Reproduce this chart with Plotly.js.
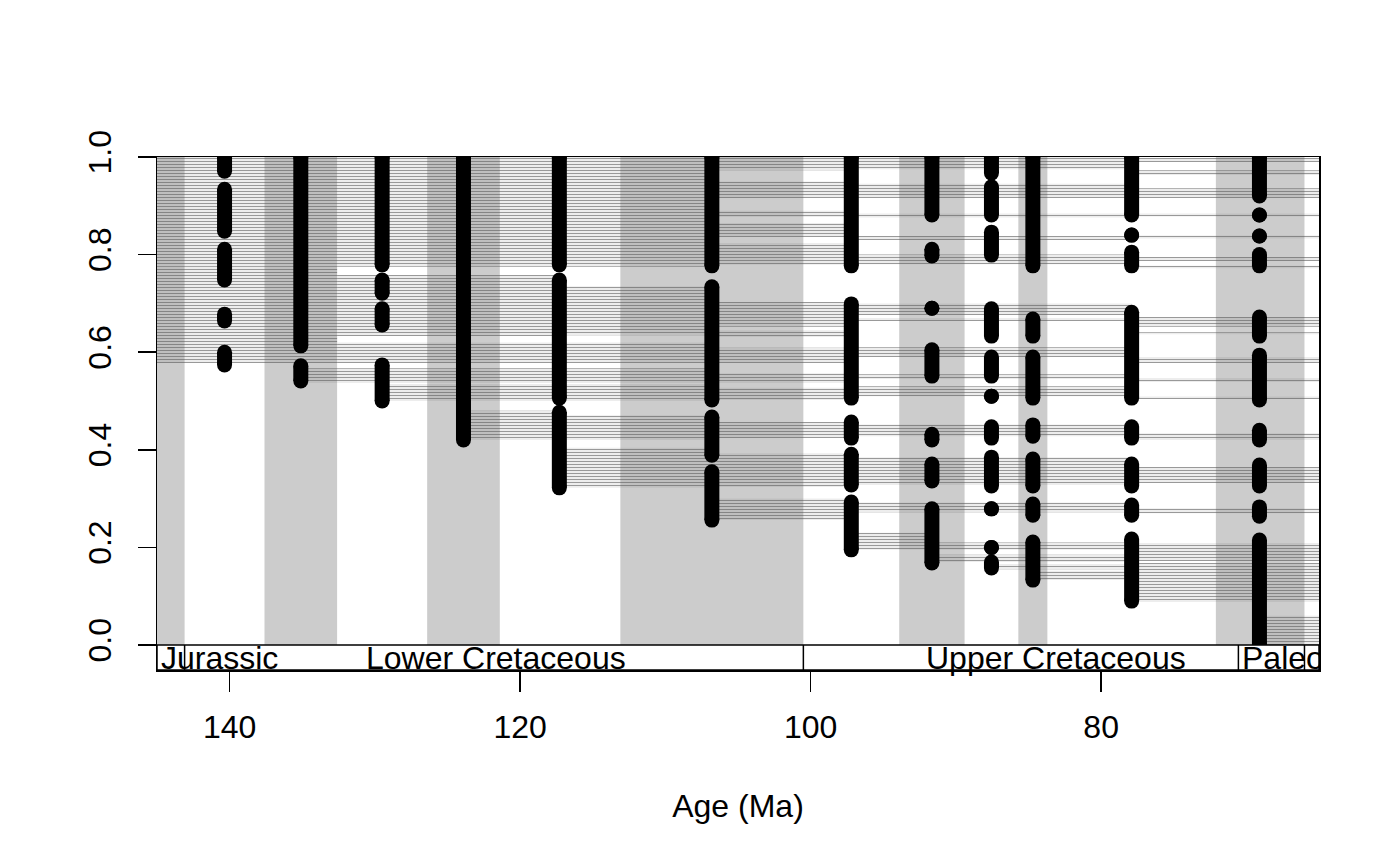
<!DOCTYPE html>
<html>
<head>
<meta charset="utf-8">
<script src="https://cdn.plot.ly/plotly-3.0.1.min.js"></script>
<style>
  html, body { margin: 0; padding: 0; background: white; }
  #chart1 { width: 1400px; height: 866px; }
</style>
</head>
<body>
<div id="chart1"></div>
<script>
// stage bins (Ma), every other one shaded
const shadeTop  = [146.0, 137.6, 126.4, 113.1, 93.9, 85.7, 72.1]
const shadeBase = [143.1, 132.6, 121.4, 100.5, 89.4, 83.7, 66.0]

// bin midpoints where the occurrences sit
const binMid = [140.35, 135.1, 129.5, 123.9, 117.3, 106.8, 97.2, 91.65, 87.55, 84.7, 77.9, 69.1]

// stacks of occurrence dots in each bin: [top, bottom] (taxon position 0..1)
const occRuns = [
    [[1.0, 0.971], [0.934, 0.848], [0.811, 0.748], [0.678, 0.664], [0.600, 0.574]],
    [[1.0, 0.613], [0.572, 0.541]],
    [[1.0, 0.779], [0.748, 0.721], [0.689, 0.656], [0.574, 0.500]],
    [[1.0, 0.420]],
    [[1.0, 0.779], [0.748, 0.506], [0.477, 0.322]],
    [[1.0, 0.777], [0.734, 0.502], [0.467, 0.389], [0.355, 0.256]],
    [[1.0, 0.777], [0.699, 0.506], [0.457, 0.424], [0.391, 0.328], [0.293, 0.195]],
    [[1.0, 0.881], [0.811, 0.797], [0.690, 0.690], [0.605, 0.551], [0.432, 0.420], [0.371, 0.336], [0.279, 0.168]],
    [[1.0, 0.967], [0.939, 0.881], [0.846, 0.799], [0.689, 0.633], [0.590, 0.551], [0.510, 0.510], [0.447, 0.424], [0.385, 0.326], [0.279, 0.279], [0.200, 0.200], [0.170, 0.158]],
    [[1.0, 0.777], [0.668, 0.633], [0.590, 0.506], [0.451, 0.428], [0.381, 0.326], [0.289, 0.266], [0.211, 0.133]],
    [[1.0, 0.881], [0.840, 0.840], [0.805, 0.777], [0.682, 0.506], [0.447, 0.424], [0.371, 0.326], [0.287, 0.266], [0.217, 0.090]],
    [[1.0, 0.920], [0.881, 0.881], [0.838, 0.838], [0.800, 0.777], [0.672, 0.633], [0.594, 0.502], [0.440, 0.420], [0.369, 0.326], [0.283, 0.264], [0.215, 0.0]]
]

// groups of taxon range lines: lower / upper position, from / to age
const bandLo = [0.775, 0.973, 0.916, 0.877, 0.836, 0.779, 0.975, 0.916, 0.876, 0.830, 0.780, 0.990, 0.963, 0.916, 0.878, 0.833, 0.787, 0.772,
                0.578, 0.633, 0.578, 0.635, 0.652, 0.631, 0.578, 0.676, 0.664, 0.590, 0.652, 0.637, 0.578,
                0.537, 0.537, 0.545, 0.539,
                0.500, 0.502, 0.510, 0.504,
                0.420, 0.420, 0.424, 0.428, 0.420,
                0.322, 0.324, 0.328, 0.332,
                0.256, 0.272, 0.270,
                0.195, 0.195, 0.172, 0.170, 0.155, 0.133, 0.088, 0.000]
const bandHi = [1.000, 1.000, 0.950, 0.890, 0.865, 0.824, 1.000, 0.945, 0.884, 0.838, 0.800, 0.998, 0.973, 0.936, 0.884, 0.839, 0.795, 0.777,
                0.775, 0.758, 0.620, 0.735, 0.703, 0.645, 0.609, 0.700, 0.670, 0.610, 0.672, 0.641, 0.590,
                0.567, 0.557, 0.555, 0.547,
                0.535, 0.527, 0.530, 0.509,
                0.480, 0.471, 0.457, 0.452, 0.434,
                0.404, 0.393, 0.385, 0.365,
                0.300, 0.292, 0.280,
                0.230, 0.210, 0.209, 0.185, 0.166, 0.152, 0.168, 0.060]
const bandFrom = [146, 106.8, 106.8, 106.8, 106.8, 106.8, 97.2, 97.2, 97.2, 97.2, 97.2, 77.9, 77.9, 77.9, 77.9, 77.9, 77.9, 77.9,
                  146, 132.6, 132.6, 117.3, 106.8, 106.8, 106.8, 97.2, 97.2, 97.2, 77.9, 77.9, 77.9,
                  135.1, 106.8, 97.2, 77.9,
                  129.5, 106.8, 97.2, 77.9,
                  123.9, 117.3, 106.8, 97.2, 77.9,
                  117.3, 106.8, 97.2, 77.9,
                  106.8, 97.2, 77.9,
                  97.2, 91.65, 77.9, 91.65, 87.55, 84.7, 77.9, 69.1]
const bandTo = [106.8, 97.2, 97.2, 97.2, 97.2, 97.2, 77.9, 77.9, 77.9, 77.9, 77.9, 64, 64, 64, 64, 64, 64, 64,
                132.6, 117.3, 106.8, 106.8, 97.2, 97.2, 97.2, 77.9, 77.9, 77.9, 64, 64, 64,
                106.8, 97.2, 77.9, 64,
                106.8, 97.2, 77.9, 64,
                117.3, 106.8, 97.2, 77.9, 64,
                106.8, 97.2, 77.9, 64,
                97.2, 77.9, 64,
                91.65, 77.9, 64, 77.9, 77.9, 77.9, 64, 64]

// time scale strip under the plot
const eraNames = ['Jurassic', 'Lower Cretaceous', 'Upper Cretaceous', 'Paleogene']
const eraStart = [144.8, 130.7, 92.1, 70.35]
const eraDividers = [143.1, 100.5, 70.55, 66.0]
const stripBottom = -0.0512

const yTicks = [0, 0.2, 0.4, 0.6, 0.8, 1.0]
const yTickText = ['0.0', '0.2', '0.4', '0.6', '0.8', '1.0']
const xTicks = [140, 120, 100, 80]

const xRange = [145, 65]
const lineGrey = '#555555'
const FONT = 'Liberation Sans, Arial, sans-serif'
const FSIZE = 32

// range lines, drawn as striped bars
var barX = [], barW = [], barH = []
for (var i = 0; i < bandLo.length; i++) {
    barX.push((bandFrom[i] + bandTo[i]) / 2)
    barW.push(bandFrom[i] - bandTo[i])
    barH.push(bandHi[i] - bandLo[i])
}
var rangeTrace = {
    type: 'bar',
    x: barX,
    y: barH,
    base: bandLo,
    width: barW,
    marker: {
        color: lineGrey,
        line: {width: 0},
        pattern: {shape: '-', size: 3, solidity: 0.45, fgcolor: lineGrey, fgopacity: 0.6, bgcolor: 'rgba(0,0,0,0)'},
    },
    hoverinfo: 'skip',
}

// occurrence dots: each stack is a thick segment capped by dots
var dotX = [], dotY = []
occRuns.forEach(function (runs, i) {
    runs.forEach(function (r) {
        dotX.push(binMid[i], binMid[i], null)
        dotY.push(r[0], r[1], null)
    })
})
var dotTrace = {
    type: 'scatter',
    mode: 'lines+markers',
    x: dotX,
    y: dotY,
    line: {color: 'black', width: 15},
    marker: {color: 'black', size: 15},
    connectgaps: false,
    hoverinfo: 'skip',
}

var shapes = []
for (var i = 0; i < shadeTop.length; i++) {
    shapes.push({type: 'rect', layer: 'below', xref: 'x', yref: 'y',
        x0: shadeTop[i], x1: shadeBase[i], y0: 0, y1: 1,
        fillcolor: '#cccccc', line: {width: 0}})
}
shapes.push({type: 'rect', layer: 'above', xref: 'x', yref: 'y',
    x0: xRange[0], x1: xRange[1], y0: stripBottom, y1: 0,
    fillcolor: 'white', line: {color: 'black', width: 1.5}})
eraDividers.forEach(function (a) {
    shapes.push({type: 'line', layer: 'above', xref: 'x', yref: 'y',
        x0: a, x1: a, y0: stripBottom, y1: 0, line: {color: 'black', width: 1.5}})
})

var plotW = 1400 - 157 - 81
var annotations = eraNames.map(function (name, i) {
    var ann = {
        x: eraStart[i], y: stripBottom / 2, xref: 'x', yref: 'y',
        text: name, showarrow: false, xanchor: 'left', yanchor: 'middle', align: 'left',
        font: {family: FONT, size: FSIZE, color: 'black'}, borderpad: 0,
    }
    // last label runs past the plot edge: clip it there
    var room = (eraStart[i] - xRange[1]) / (xRange[0] - xRange[1]) * plotW
    if (room < 150) { ann.width = room }
    return ann
})

var layout = {
    width: 1400,
    height: 866,
    margin: {l: 157, r: 81, t: 157, b: 196},
    paper_bgcolor: 'white',
    plot_bgcolor: 'white',
    showlegend: false,
    barmode: 'overlay',
    font: {family: FONT, size: FSIZE, color: 'black'},
    xaxis: {
        range: xRange,
        tickvals: xTicks,
        ticks: 'outside', ticklen: 20, tickwidth: 1.5, tickcolor: 'black',
        ticklabelstandoff: 8,
        showline: true, mirror: true, linecolor: 'black', linewidth: 1.5,
        showgrid: false, zeroline: false,
        tickfont: {family: FONT, size: FSIZE},
        title: {text: 'Age (Ma)', font: {family: FONT, size: FSIZE}, standoff: 50},
    },
    yaxis: {
        range: [stripBottom, 1],
        tickvals: yTicks,
        ticktext: yTickText,
        tickangle: -90,
        ticks: 'outside', ticklen: 18, tickwidth: 1.5, tickcolor: 'black',
        ticklabelstandoff: 14,
        showline: true, mirror: true, linecolor: 'black', linewidth: 1.5,
        showgrid: false, zeroline: false,
        tickfont: {family: FONT, size: FSIZE},
    },
    shapes: shapes,
    annotations: annotations,
}

Plotly.newPlot('chart1', [rangeTrace, dotTrace], layout, {displayModeBar: false, staticPlot: true})
</script>
</body>
</html>
